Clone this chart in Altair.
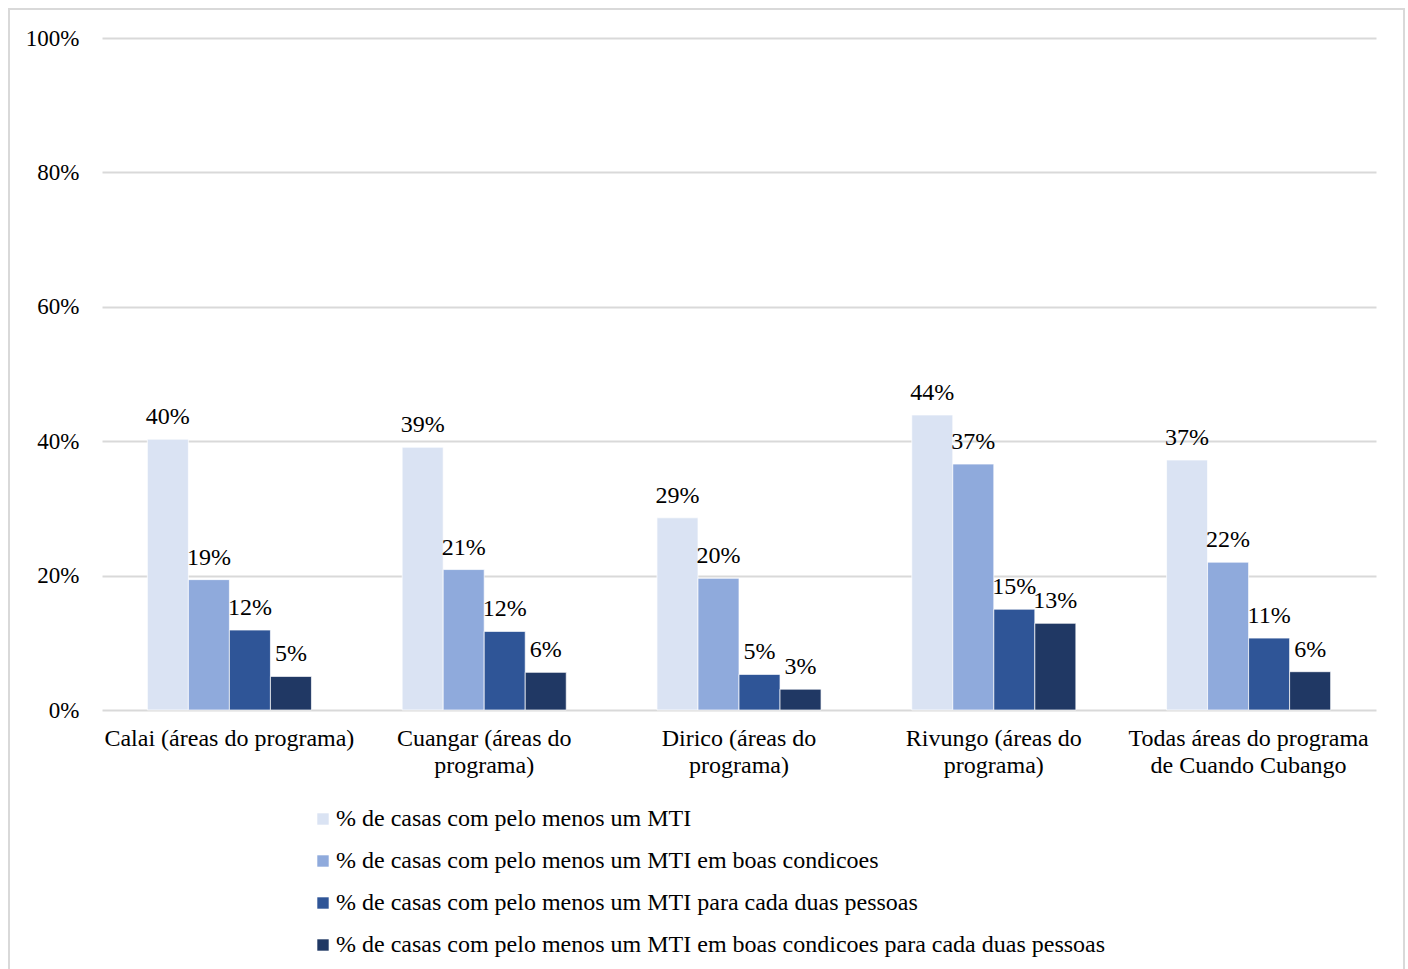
import altair as alt
import pandas as pd

# Program areas (axis labels use "\n" for line breaks)
areas = [
    "Calai (áreas do programa)",
    "Cuangar (áreas do\nprograma)",
    "Dirico (áreas do\nprograma)",
    "Rivungo (áreas do\nprograma)",
    "Todas áreas do programa\nde Cuando Cubango",
]

series = [
    "% de casas com pelo menos um MTI",
    "% de casas com pelo menos um MTI em boas condicoes",
    "% de casas com pelo menos um MTI para cada duas pessoas",
    "% de casas com pelo menos um MTI em boas condicoes para cada duas pessoas",
]

colors = ["#dae3f3", "#8faadc", "#2f5597", "#203864"]

# Share of households, one list per indicator, in the order of `areas`
pct_any = [0.403, 0.391, 0.286, 0.439, 0.372]
pct_good = [0.194, 0.209, 0.196, 0.366, 0.220]
pct_per_two = [0.119, 0.117, 0.053, 0.150, 0.107]
pct_good_per_two = [0.050, 0.056, 0.031, 0.129, 0.057]

values = [pct_any, pct_good, pct_per_two, pct_good_per_two]

rows = []
for s_idx, s in enumerate(series):
    for a_idx, a in enumerate(areas):
        rows.append({"area": a, "series": s, "order": s_idx, "value": values[s_idx][a_idx]})
df = pd.DataFrame(rows)

FONT = "Liberation Serif"
FS = 24

x_enc = alt.X(
    "area:N",
    sort=areas,
    scale=alt.Scale(paddingInner=0.356, paddingOuter=0.178),
    axis=alt.Axis(
        title=None,
        labelAngle=0,
        labelFontSize=FS,
        labelFont=FONT,
        labelColor="#000000",
        labelPadding=16,
        labelLineHeight=27,
        labelLimit=400,
        labelExpr="split(datum.label, '\\n')",
        ticks=False,
        domain=False,
        grid=False,
    ),
)

xoff = alt.XOffset("series:N", sort=series, scale=alt.Scale(paddingInner=0, paddingOuter=0))

y_enc = alt.Y(
    "value:Q",
    scale=alt.Scale(domain=[0, 1], nice=False),
    axis=alt.Axis(
        title=None,
        values=[0, 0.2, 0.4, 0.6, 0.8, 1.0],
        format=".0%",
        labelFontSize=23,
        labelFont=FONT,
        labelColor="#000000",
        labelPadding=23,
        ticks=False,
        domain=False,
        grid=True,
        gridColor="#d9d9d9",
        gridWidth=2,
    ),
)

bars = alt.Chart(df).mark_bar(stroke="white", strokeWidth=0.7).encode(
    x=x_enc,
    xOffset=xoff,
    y=y_enc,
    color=alt.Color(
        "series:N",
        sort=series,
        scale=alt.Scale(domain=series, range=colors),
        legend=alt.Legend(
            title=None,
            orient="none",
            legendX=209,
            legendY=769,
            direction="vertical",
            symbolType="square",
            symbolSize=130,
            symbolStrokeWidth=0,
            labelFontSize=FS,
            labelFont=FONT,
            labelColor="#000000",
            labelLimit=1000,
            rowPadding=18,
            labelOffset=1,
        ),
    ),
)

labels = alt.Chart(df).mark_text(
    font=FONT, fontSize=FS, color="#000000", baseline="alphabetic", dy=-15
).encode(
    x=alt.X("area:N", sort=areas),
    xOffset=xoff,
    y=alt.Y("value:Q"),
    text=alt.Text("value:Q", format=".0%"),
)

# Light frame around the whole figure
frame = alt.Chart(pd.DataFrame({"k": [0]})).mark_rect(
    fill=None, stroke="#d9d9d9", strokeWidth=2
).encode(
    x=alt.value(-93),
    x2=alt.value(1302),
    y=alt.value(-29),
    y2=alt.value(945),
)

chart = (
    alt.layer(frame, bars, labels)
    .properties(
        width=1274,
        height=672,
        background="white",
        padding={"left": 8, "top": 8, "right": 0, "bottom": 0},
    )
    .configure_view(stroke="transparent", strokeWidth=0)
)

chart.save("out.html", embed_options={"renderer": "svg", "actions": False})
